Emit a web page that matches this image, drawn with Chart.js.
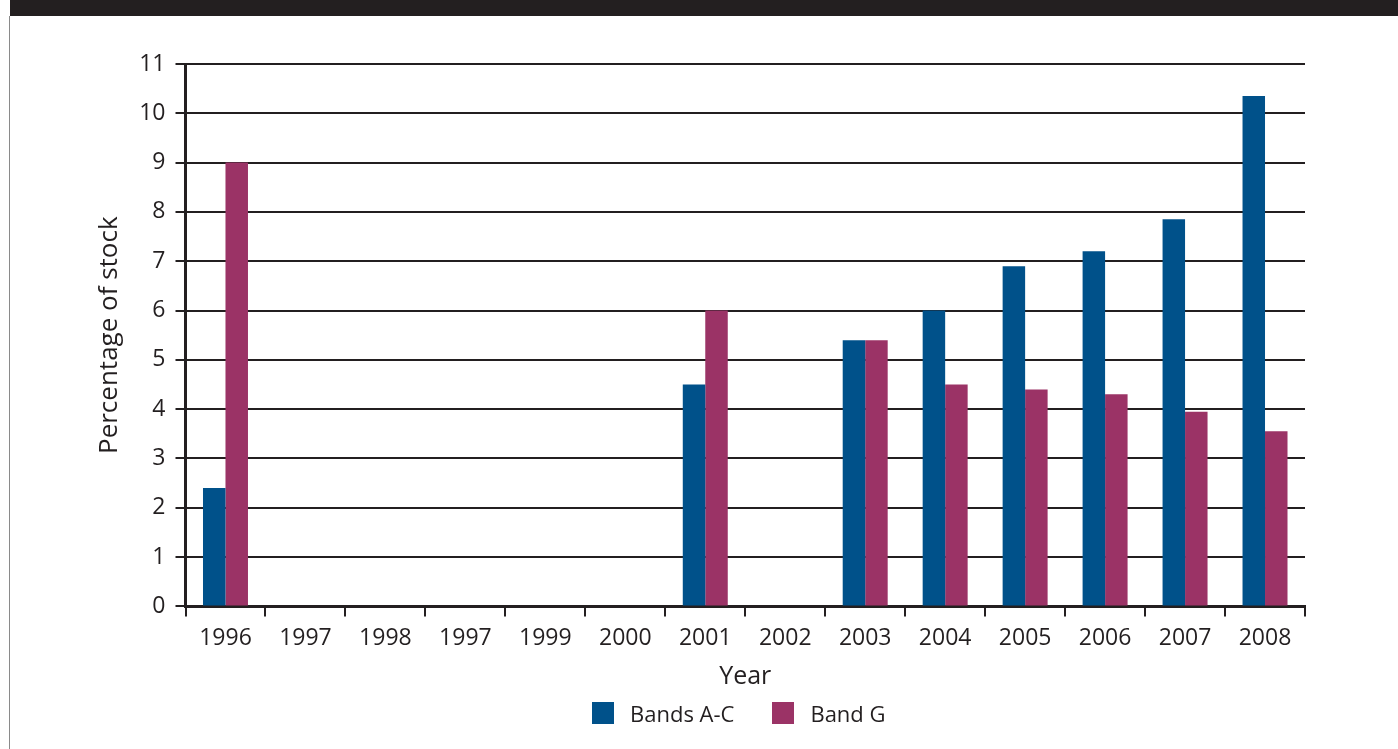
<!DOCTYPE html>
<html>
<head>
<meta charset="utf-8">
<script src="https://cdn.jsdelivr.net/npm/chart.js@4/dist/chart.umd.min.js"></script>
<style>
  html, body { margin: 0; padding: 0; background: #fff; }
  #wrap { position: relative; width: 1398px; height: 749px; font-family: 'Open Sans', 'Noto Sans', sans-serif; color: #231f20; }
  #banner { position: absolute; left: 10px; top: 0; width: 1388px; height: 16px; background: #231f20; }
  #edge { position: absolute; left: 9px; top: 16px; width: 1px; height: 733px; background: #8a8a8a; }
  #stockChart { position: absolute; left: 0; top: 0; }
  .legend { position: absolute; left: 592px; top: 699px; display: flex; font-size: 22px; line-height: 28px; }
  .legend div { display: flex; align-items: center; margin-right: 38px; }
  .legend span { display: inline-block; width: 22px; height: 22px; margin-right: 16px; }
</style>
</head>
<body>
<div id="wrap">
  <canvas id="stockChart" width="1398" height="749"></canvas>
  <div id="banner"></div>
  <div id="edge"></div>
</div>
<script>
'use strict'

// 年（1997 が二回出てくるのは元の表のまま）
const years = ['1996', '1997', '1998', '1997', '1999', '2000', '2001', '2002', '2003', '2004', '2005', '2006', '2007', '2008'];
const bandsAC = [2.4, null, null, null, null, null, 4.5, null, 5.4, 6.0, 6.9, 7.2, 7.85, 10.35];
const bandG = [9.0, null, null, null, null, null, 6.0, null, 5.4, 4.5, 4.4, 4.3, 3.95, 3.55];
const yTicks = [0, 1, 2, 3, 4, 5, 6, 7, 8, 9, 10, 11];

const ink = '#231f20';
const font = "'Open Sans', 'Noto Sans', sans-serif";

const ctx = document.getElementById('stockChart');
const myChart = new Chart(ctx, {
  type: 'bar',
  data: {
    labels: years,
    datasets: [{
      label: 'Bands A-C',
      data: bandsAC,
      backgroundColor: '#00518a',
      borderWidth: 0,
    }, {
      label: 'Band G',
      data: bandG,
      backgroundColor: '#9b3366',
      borderWidth: 0,
    }]
  },
  options: {
    responsive: false,
    animation: false,
    categoryPercentage: 0.5625,
    barPercentage: 1,
    layout: {
      padding: {left: 94, right: 93, top: 64, bottom: 57}
    },
    scales: {
      x: {
        grid: {
          drawOnChartArea: false,
          tickLength: 10,
          color: ink,
          lineWidth: 2,
        },
        border: {color: ink, width: 3},
        ticks: {
          color: ink,
          font: {family: font, size: 23},
          padding: 8,
          maxRotation: 0,
          autoSkip: false,
        },
        title: {
          display: true,
          text: 'Year',
          color: ink,
          font: {family: font, size: 25, weight: '500'},
          padding: {top: 2, bottom: 0},
        }
      },
      y: {
        min: 0,
        max: 11,
        afterBuildTicks: (axis) => {
          axis.ticks = yTicks.map(v => ({value: v}));
        },
        grid: {
          tickLength: 10,
          color: ink,
          lineWidth: 2,
        },
        border: {color: ink, width: 3},
        ticks: {
          color: ink,
          font: {family: font, size: 23},
          padding: 10,
        },
        title: {
          display: true,
          text: 'Percentage of stock',
          color: ink,
          font: {family: font, size: 26},
          padding: {top: 0, bottom: 4},
        }
      }
    },
    plugins: {
      legend: {display: false},
      tooltip: {enabled: false}
    }
  }
});

// 凡例
const wrap = document.getElementById('wrap');
let legendList = `<div class="legend">`;
myChart.data.datasets.forEach((ds) => {
  legendList += `<div><span style="background:${ds.backgroundColor}"></span>${ds.label}</div>`;
});
legendList += `</div>`;
wrap.insertAdjacentHTML('beforeend', legendList);
</script>
</body>
</html>
